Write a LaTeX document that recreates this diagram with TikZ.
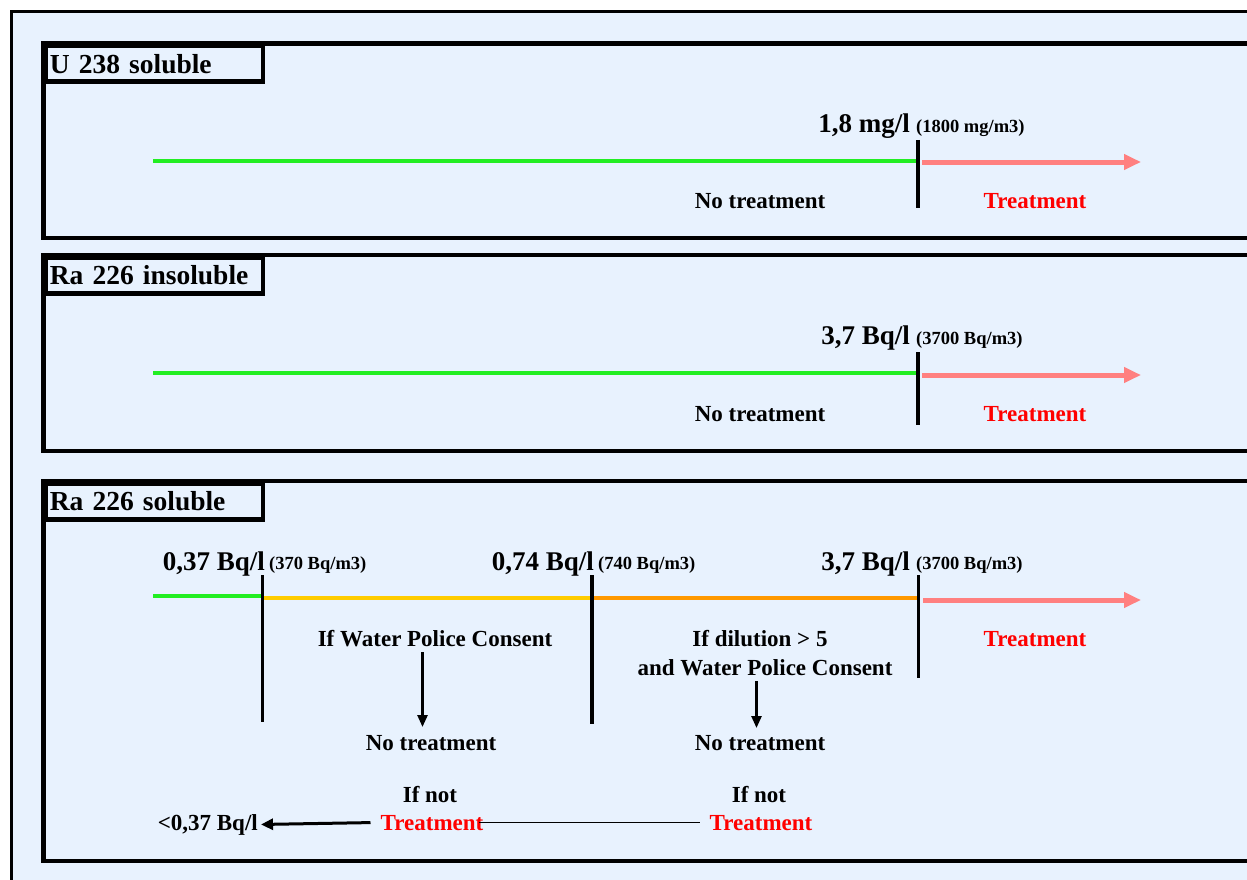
\documentclass[tikz,border=0pt]{standalone}
\usepackage{fontspec}
\setmainfont{Liberation Serif}
\usetikzlibrary{arrows.meta,positioning}
\definecolor{panelbg}{RGB}{232,242,254}
\definecolor{okgreen}{RGB}{34,238,34}
\definecolor{consentyellow}{RGB}{255,204,0}
\definecolor{dilutionorange}{RGB}{255,153,0}
\definecolor{treatpink}{RGB}{255,128,128}
\definecolor{treatred}{RGB}{255,0,0}

\begin{document}
\begin{tikzpicture}[x=1pt,y=-1pt,
  every node/.style={inner sep=0pt},
  panel/.style={draw,line width=4.5pt},
  titlebox/.style={draw,line width=4.5pt,anchor=north west,minimum width=217pt,
    minimum height=36pt,text width=209pt,inner xsep=4pt,align=left,
    font=\bfseries\fontsize{27.5}{30}\selectfont},
  big/.style={font=\bfseries\fontsize{27}{30}\selectfont},
  mid/.style={font=\bfseries\fontsize{23}{26}\selectfont},
  small/.style={font=\bfseries\fontsize{18.5}{20}\selectfont},
  band/.style={line width=4pt},
  limit/.style={line width=3.5pt},
  pinkarrow/.style={treatpink,line width=5pt,-{Triangle[length=17pt,width=15pt]}},
  downarrow/.style={line width=2.5pt,-{Triangle[length=12pt,width=10pt]}}]

  \useasboundingbox (0,0) rectangle (1247,880);
  \clip (0,0) rectangle (1247,880);
  \fill[white] (0,0) rectangle (1247,880);
  \draw[line width=3.5pt,fill=panelbg] (11.5,11.5) rectangle (1300,930);

  % U 238 soluble
  \draw[panel] (43.5,43.5) rectangle (1300,238);
  \node[titlebox] (u238) at (43.5,43.5) {U 238 soluble};
  \coordinate (u0) at (153,161);
  \coordinate (u1) at (916,161);
  \coordinate (u2) at (1141,162);
  \draw[band,okgreen] (u0) -- (u1);
  \draw[pinkarrow] (922,162) -- (u2);
  \draw[limit] (918,140) -- (918,208);
  \node[big,anchor=base east] (ulim) at (910,132) {1,8 mg/l};
  \node[small,anchor=base west] (ulimm3) at (916,132) {(1800 mg/m3)};
  \node[mid,anchor=base] (unone) at (760,208) {No treatment};
  \node[mid,anchor=base,text=treatred] (utreat) at (1035,208) {Treatment};

  % Ra 226 insoluble
  \draw[panel] (43.5,255) rectangle (1300,451);
  \node[titlebox] (rains) at (43.5,255) {Ra 226 insoluble};
  \coordinate (i0) at (153,373);
  \coordinate (i1) at (916,373);
  \coordinate (i2) at (1141,375);
  \draw[band,okgreen] (i0) -- (i1);
  \draw[pinkarrow] (922,375) -- (i2);
  \draw[limit] (918,352) -- (918,425);
  \node[big,anchor=base east] (ilim) at (910,344) {3,7 Bq/l};
  \node[small,anchor=base west] (ilimm3) at (916,344) {(3700 Bq/m3)};
  \node[mid,anchor=base] (inone) at (760,421) {No treatment};
  \node[mid,anchor=base,text=treatred] (itreat) at (1035,421) {Treatment};

  % Ra 226 soluble
  \draw[panel] (43.5,481) rectangle (1300,861);
  \node[titlebox] (rasol) at (43.5,481) {Ra 226 soluble};
  \coordinate (s0) at (153,596);
  \coordinate (s1) at (262,596);
  \coordinate (s2) at (262,598);
  \coordinate (s3) at (592,598);
  \coordinate (s4) at (917,598);
  \coordinate (s5) at (1141,600);
  \draw[band,okgreen] (s0) -- (s1);
  \draw[band,consentyellow] (s2) -- (s3);
  \draw[band,dilutionorange] (s3) -- (s4);
  \draw[pinkarrow] (923,600) -- (s5);
  \draw[limit] (262.5,575) -- (262.5,722);
  \draw[limit] (592,575) -- (592,724);
  \draw[limit] (918.5,575) -- (918.5,678);
  \node[big,anchor=base east] (slima) at (265,570) {0,37 Bq/l};
  \node[small,anchor=base west] (slimam3) at (269,569) {(370 Bq/m3)};
  \node[big,anchor=base east] (slimb) at (594,570) {0,74 Bq/l};
  \node[small,anchor=base west] (slimbm3) at (598,569) {(740 Bq/m3)};
  \node[big,anchor=base east] (slimc) at (910,570) {3,7 Bq/l};
  \node[small,anchor=base west] (slimcm3) at (916,569) {(3700 Bq/m3)};
  \node[mid,anchor=base,text=treatred] (streat) at (1035,646) {Treatment};

  \node[mid,anchor=base] (consent) at (435,646) {If Water Police Consent};
  \node[mid,anchor=base] (nonea) at (431,750) {No treatment};
  \node[mid,anchor=base] (dilution) at (760,646) {If dilution > 5};
  \node[mid,anchor=base] (dilconsent) at (765,675) {and Water Police Consent};
  \node[mid,anchor=base] (noneb) at (760,750) {No treatment};
  \draw[downarrow] (422.5,652) -- (422.5,727);
  \draw[downarrow] (756.5,681) -- (756.5,728);

  \node[mid,anchor=base] (ifnota) at (430,802) {If not};
  \node[mid,anchor=base,text=treatred] (treata) at (432,830) {Treatment};
  \node[mid,anchor=base] (ifnotb) at (759,802) {If not};
  \node[mid,anchor=base,text=treatred] (treatb) at (761,830) {Treatment};
  \node[mid,anchor=base east] (below) at (258,830) {<0,37 Bq/l};

  \draw[line width=1.2pt,shorten <=10pt,shorten >=-5pt] (treatb.west) -- (treata.east);
  \draw[line width=3pt,-{Triangle[length=12pt,width=11pt]}]
    ([xshift=-10pt]treata.west) -- ([xshift=3pt]below.east);

\end{tikzpicture}
\end{document}
